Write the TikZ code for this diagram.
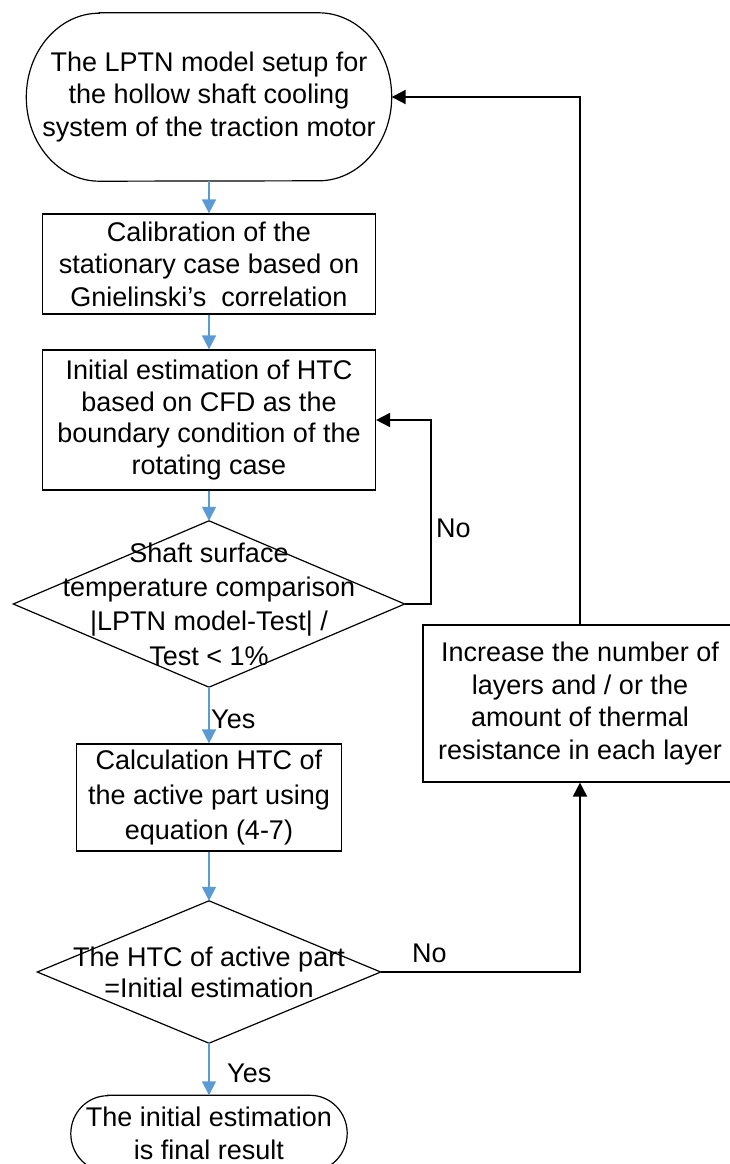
\documentclass[tikz,border=0pt]{standalone}
\usepackage{fontspec}
\setmainfont{Liberation Sans}
\usetikzlibrary{arrows.meta}
\definecolor{flowblue}{RGB}{91,155,213}
\tikzset{
  x=1pt, y=-1pt,
  txt/.style={align=center, font=\fontsize{27}{32.5}\selectfont, inner sep=0pt},
  boxnode/.style={txt, draw=black, line width=1.2pt},
  hidden/.style={txt, draw=none},
  outline/.style={draw=black, line width=1.2pt},
  bluearrow/.style={draw=flowblue, line width=1.5pt, -{Triangle[length=14pt, width=14pt]}},
  blackarrow/.style={draw=black, line width=2pt, -{Triangle[length=14pt, width=14pt]}},
  lbl/.style={font=\fontsize{27}{32.5}\selectfont, inner sep=0pt, anchor=west}
}
\begin{document}
\begin{tikzpicture}
\useasboundingbox (0,0) rectangle (730,1164);

% top terminator
\node[hidden, minimum width=365pt, minimum height=168pt] (start) at (209,97)
  {The LPTN model setup for\\the hollow shaft cooling\\system of the traction motor};
\draw[outline] ([xshift=73pt]start.north west) -- ([xshift=-73pt]start.north east)
  arc[start angle=-90, end angle=90, x radius=73, y radius=84]
  -- ([xshift=73pt]start.south west)
  arc[start angle=90, end angle=270, x radius=73, y radius=84] -- cycle;

% box 2
\node[boxnode, minimum width=333pt, minimum height=100pt] (calib) at (209,264)
  {Calibration of the\\stationary case based on\\Gnielinski’s\ \ correlation};

% box 3
\node[boxnode, minimum width=333pt, minimum height=140pt,
  font=\fontsize{27}{31.7}\selectfont] (init) at (209,420)
  {Initial estimation of HTC\\based on CFD as the\\boundary condition of the\\rotating case};

% diamond 1
\node[hidden, minimum width=391pt, minimum height=166pt,
  font=\fontsize{27}{34.3}\selectfont] (cmp) at (209,604)
  {Shaft surface\\temperature comparison\\|LPTN model-Test| /\\Test < 1\%};
\draw[outline] (cmp.north) -- (cmp.east) -- (cmp.south) -- (cmp.west) -- cycle;

% box 4
\node[boxnode, minimum width=265pt, minimum height=107pt,
  font=\fontsize{27}{35}\selectfont] (calc) at (209,797.5)
  {Calculation HTC of\\the active part using\\equation (4-7)};

% diamond 2
\node[hidden, minimum width=343pt, minimum height=142pt,
  font=\fontsize{27}{31}\selectfont] (eq) at (209,972)
  {The HTC of active part\\=Initial estimation};
\draw[outline] (eq.north) -- (eq.east) -- (eq.south) -- (eq.west) -- cycle;

% box 5
\node[boxnode, minimum width=314pt, minimum height=157pt,
  font=\fontsize{27}{32.7}\selectfont] (inc) at (580,703.5)
  {Increase the number of\\layers and / or the\\amount of thermal\\resistance in each layer};

% final terminator
\node[hidden, minimum width=276pt, minimum height=76pt,
  font=\fontsize{27}{33}\selectfont] (final) at (209,1133.5)
  {The initial estimation\\is final result};
\draw[outline] ([xshift=37pt]final.north west) -- ([xshift=-37pt]final.north east)
  arc[start angle=-90, end angle=90, x radius=37, y radius=38]
  -- ([xshift=37pt]final.south west)
  arc[start angle=90, end angle=270, x radius=37, y radius=38] -- cycle;

% main flow
\draw[bluearrow] (start.south) -- (calib.north);
\draw[bluearrow] (calib.south) -- (init.north);
\draw[bluearrow] (init.south) -- (cmp.north);
\draw[bluearrow] (cmp.south) -- (calc.north);
\draw[bluearrow] (calc.south) -- (eq.north);
\draw[bluearrow] (eq.south) -- (final.north);

% loops
\draw[blackarrow] (cmp.east) -- ++(26,0) |- (init.east);
\draw[blackarrow] (eq.east) -| (inc.south);
\draw[blackarrow] (inc.north) |- (start.east);

% labels
\node[lbl] (no1) at (436,528) {No};
\node[lbl] (yes1) at (211,719) {Yes};
\node[lbl] (no2) at (412,953) {No};
\node[lbl] (yes2) at (227,1073) {Yes};
\end{tikzpicture}
\end{document}
